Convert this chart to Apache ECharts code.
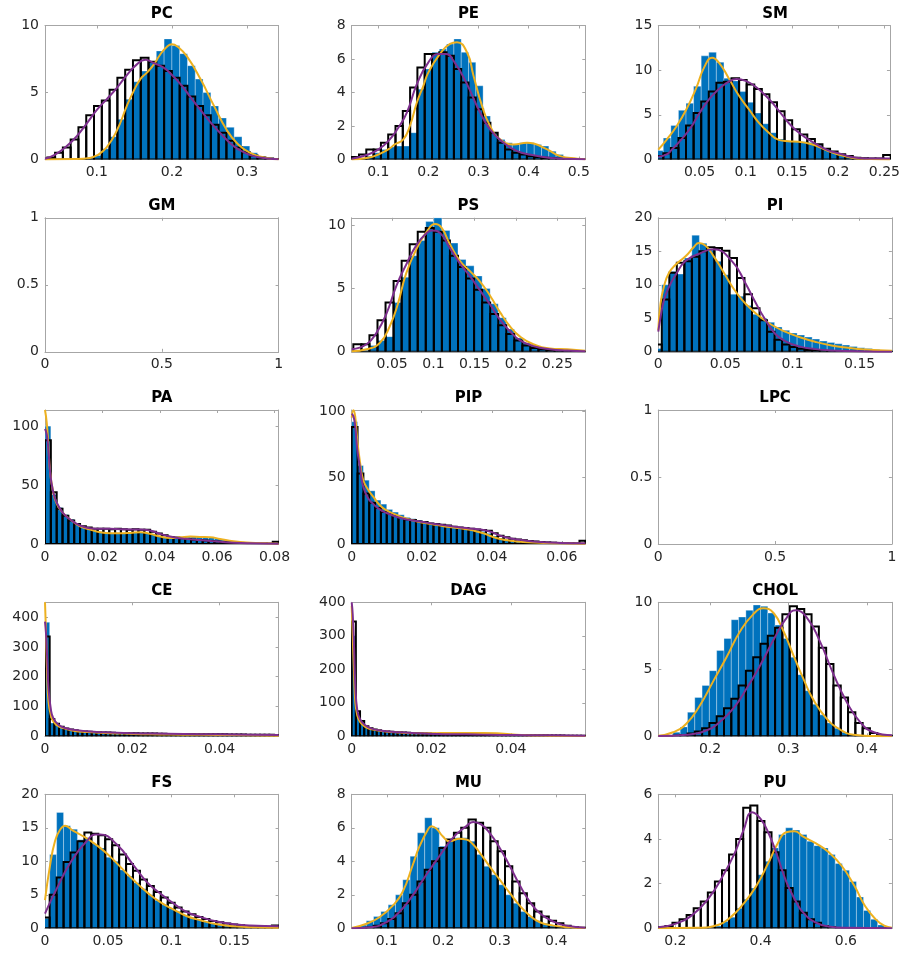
<!DOCTYPE html>
<html><head><meta charset="utf-8">
<script src="https://cdn.jsdelivr.net/npm/echarts@6/dist/echarts.min.js"></script>
<style>html,body{margin:0;padding:0;background:#fff}#chart{width:903px;height:953px}</style>
</head><body><div id="chart"></div>
<script>
// ---------- data ----------
// bins: [first edge, bin width]; lim: axis limits
const PC_xlim=[0.031,0.342], PC_ymax=10, PC_bins=[0.0237,0.010367];
const PC_xticks=[0.1,0.2,0.3], PC_yticks=[0,5,10];
const PC_blue=[0,0,0,0,0.02,0.05,0.1,0.3,0.8,1.7,3.0,4.5,5.8,6.6,7.3,8.1,9.0,8.5,7.9,7.0,6.0,5.0,4.0,3.1,2.4,1.7,1.0,0.5,0.25,0.1,0.05];
const PC_black=[0.05,0.15,0.5,0.9,1.5,2.4,3.3,4.0,4.4,5.2,6.1,6.7,7.4,7.6,7.3,7.0,6.6,6.1,5.5,4.7,4.0,3.3,2.6,2.0,1.4,0.9,0.55,0.3,0.15,0.08,0.03];
const PC_orange=[[0.031,0],[0.07,0.03],[0.09,0.12],[0.1,0.3],[0.113,0.9],[0.127,2.2],[0.14,4.0],[0.149,5.1],[0.158,6.0],[0.167,6.5],[0.176,7.1],[0.184,7.8],[0.193,8.4],[0.2,8.6],[0.208,8.4],[0.22,7.7],[0.238,6.0],[0.256,4.0],[0.273,2.2],[0.287,1.2],[0.304,0.5],[0.327,0.1],[0.342,0.02]];
const PC_purple=[[0.031,0.05],[0.0444,0.37],[0.06,1.0],[0.0733,1.74],[0.0867,2.7],[0.1,3.7],[0.1133,4.5],[0.1267,5.35],[0.14,6.3],[0.1533,7.1],[0.1644,7.45],[0.1756,7.2],[0.1889,6.85],[0.2,6.3],[0.2133,5.5],[0.2267,4.5],[0.2422,3.4],[0.2556,2.5],[0.2689,1.7],[0.2822,1.0],[0.2956,0.55],[0.3089,0.25],[0.3267,0.08],[0.342,0.02]];

const PE_xlim=[0.047,0.513], PE_ymax=8, PE_bins=[0.047,0.014563];
const PE_xticks=[0.1,0.2,0.3,0.4,0.5], PE_yticks=[0,2,4,6,8];
const PE_blue=[0,0.05,0.2,0.4,0.6,0.75,0.8,0.8,1.6,4.2,5.4,6.4,6.6,6.9,7.2,6.4,5.8,4.4,2.6,1.6,1.2,1.0,0.9,1.0,1.0,0.9,0.8,0.5,0.3,0.1,0.05,0];
const PE_black=[0.15,0.3,0.6,0.6,1.0,1.5,2.0,2.9,4.3,5.5,6.3,6.3,6.4,6.2,5.4,4.6,3.7,3.0,2.2,1.6,1.0,0.6,0.4,0.3,0.2,0.15,0.1,0.06,0.04,0.02,0.01,0];
const PE_orange=[[0.047,0],[0.08,0.1],[0.1,0.3],[0.12,0.6],[0.133,0.9],[0.15,1.2],[0.163,2.0],[0.177,3.4],[0.19,4.4],[0.2,5.2],[0.223,6.3],[0.243,6.9],[0.257,7.0],[0.277,6.4],[0.29,5.0],[0.307,3.2],[0.323,2.0],[0.343,1.2],[0.37,0.9],[0.397,1.0],[0.41,0.95],[0.437,0.6],[0.463,0.2],[0.497,0.05],[0.513,0.02]];
const PE_purple=[[0.047,0.05],[0.08,0.3],[0.1,0.6],[0.12,1.1],[0.14,1.9],[0.157,2.8],[0.177,4.5],[0.2,5.8],[0.22,6.3],[0.235,6.3],[0.25,5.9],[0.277,4.5],[0.3,3.0],[0.323,1.8],[0.35,1.0],[0.377,0.5],[0.41,0.25],[0.44,0.1],[0.47,0.04],[0.513,0.01]];

const SM_xlim=[0.0054,0.256], SM_ymax=15, SM_bins=[0.0026,0.0082];
const SM_xticks=[0.05,0.1,0.15,0.2,0.25], SM_yticks=[0,5,10,15];
const SM_blue=[1.0,2.4,3.8,5.5,6.3,8.2,11.6,12.0,10.9,9.1,8.8,7.6,6.4,5.2,4.0,3.0,2.3,2.0,2.0,2.0,1.9,1.6,1.3,0.9,0.6,0.35,0.2,0.1,0.05,0,0];
const SM_black=[0.4,0.7,1.3,2.4,3.8,5.2,6.5,7.6,8.6,8.7,9.1,8.9,8.4,7.9,7.3,6.4,5.4,4.4,3.4,2.8,2.3,1.7,1.2,0.9,0.6,0.4,0.2,0.15,0.1,0.1,0.5];
const SM_orange=[[0.0054,1.1],[0.0143,2.2],[0.025,3.7],[0.0357,5.6],[0.0464,8.0],[0.0554,10.4],[0.0636,11.4],[0.0714,10.8],[0.0821,9.0],[0.0929,7.1],[0.1036,5.6],[0.1143,4.1],[0.125,3.0],[0.1357,2.2],[0.1464,2.05],[0.1571,2.0],[0.1714,1.7],[0.1857,1.1],[0.2,0.55],[0.2143,0.2],[0.2286,0.07],[0.256,0]];
const SM_purple=[[0.0054,0.3],[0.015,0.6],[0.02,1.1],[0.03,2.2],[0.04,3.5],[0.05,5.2],[0.06,6.7],[0.07,7.8],[0.08,8.6],[0.09,9.0],[0.1,8.8],[0.11,8.2],[0.12,7.3],[0.13,6.2],[0.14,4.9],[0.15,3.7],[0.16,2.8],[0.17,2.1],[0.18,1.5],[0.19,1.0],[0.2,0.7],[0.21,0.4],[0.22,0.2],[0.235,0.1],[0.256,0.1]];

const GM_xlim=[0,1], GM_ymax=1, GM_xticks=[0,0.5,1], GM_yticks=[0,0.5,1];

const PS_xlim=[0.001,0.284], PS_ymax=10.6, PS_bins=[0.003,0.00975];
const PS_xticks=[0.05,0.1,0.15,0.2,0.25], PS_yticks=[0,5,10];
const PS_blue=[0.05,0.1,0.5,0.9,1.2,3.9,5.9,7.6,8.8,10.3,10.6,9.6,8.6,7.3,6.8,6.0,5.0,3.8,2.7,1.8,1.1,0.7,0.5,0.3,0.25,0.2,0.15,0.1,0.05];
const PS_black=[0.6,0.6,1.3,2.5,3.9,5.6,7.2,8.5,9.5,9.8,9.5,8.8,7.6,6.7,5.8,4.9,3.9,3.0,2.1,1.4,0.9,0.5,0.3,0.2,0.1,0.08,0.05,0.02,0];
const PS_orange=[[0.001,0.05],[0.019,0.2],[0.035,0.7],[0.047,2.0],[0.057,3.8],[0.067,6.2],[0.08,8.2],[0.092,9.5],[0.102,10.1],[0.11,9.8],[0.12,8.5],[0.132,7.2],[0.144,6.4],[0.156,5.6],[0.169,4.4],[0.181,3.1],[0.193,2.0],[0.205,1.2],[0.221,0.6],[0.241,0.27],[0.262,0.2],[0.284,0.08]];
const PS_purple=[[0.001,0.2],[0.019,0.6],[0.031,1.5],[0.043,3.0],[0.055,5.2],[0.067,6.9],[0.08,8.5],[0.092,9.4],[0.098,9.6],[0.108,9.4],[0.12,8.2],[0.132,7.0],[0.144,6.0],[0.156,4.9],[0.169,3.7],[0.181,2.5],[0.193,1.6],[0.205,0.9],[0.221,0.45],[0.241,0.2],[0.262,0.1],[0.284,0.05]];

const PI_xlim=[0,0.174], PI_ymax=20, PI_bins=[-0.003,0.0056];
const PI_xticks=[0,0.05,0.1,0.15], PI_yticks=[0,5,10,15,20];
const PI_blue=[0.5,10.0,12.0,11.6,14.0,17.4,16.2,15.2,13.5,11.5,8.6,8.3,6.9,5.6,5.0,4.4,3.7,3.2,2.8,2.5,2.2,1.9,1.6,1.4,1.2,1.0,0.8,0.6,0.5,0.35,0.25,0.15];
const PI_black=[1.1,7.8,11.8,13.3,13.5,14.2,15.0,15.6,15.5,15.1,14.0,11.0,8.6,6.5,4.7,3.0,1.8,1.1,0.7,0.45,0.3,0.2,0.1,0.05,0.05,0.02,0,0,0,0,0,0];
const PI_orange=[[0,3.2],[0.0017,7.25],[0.0042,9.75],[0.0079,11.75],[0.0129,13.0],[0.0203,14.25],[0.0265,15.65],[0.0302,16.25],[0.0351,15.85],[0.0413,14.25],[0.0475,12.25],[0.055,9.75],[0.0624,7.75],[0.0698,6.25],[0.0772,5.0],[0.0846,4.0],[0.0945,3.0],[0.1044,2.25],[0.1168,1.5],[0.129,0.95],[0.1415,0.6],[0.154,0.35],[0.174,0.15]];
const PI_purple=[[0,3.0],[0.0017,5.2],[0.0042,7.7],[0.008,9.7],[0.013,11.5],[0.02,13.5],[0.03,14.6],[0.041,15.3],[0.055,13.5],[0.065,10.2],[0.072,7.5],[0.08,4.7],[0.087,2.7],[0.0945,1.6],[0.104,0.85],[0.117,0.4],[0.129,0.2],[0.154,0.05],[0.174,0.01]];

const PA_xlim=[0,0.0814], PA_ymax=113.7, PA_bins=[0,0.002035];
const PA_xticks=[0,0.02,0.04,0.06,0.08], PA_yticks=[0,50,100];
const PA_blue=[100,42,31,25,21,17,14.5,13,11.5,10.5,9.5,9,9,9,9.5,9.5,10,9,8,6.5,5.5,5,5.5,6,6,6,6,5.5,5.5,4.5,4,3,2.2,1.7,1.3,1,0.8,0.6,0.5,0.3];
const PA_black=[88,44,30,24,20,17,15,14,13,13,13,12.5,13,12.5,12,12.5,12,12,10.5,9,7.5,6,5.5,4.8,4.2,3.7,3.3,2.9,2.5,2.2,1.8,1.4,1.1,0.9,0.7,0.6,0.5,0.4,0.3,2];
const PA_orange=[[0,113.7],[0.0006,103],[0.0012,83],[0.0017,63],[0.0027,46],[0.0041,34],[0.0064,26],[0.0087,21],[0.0122,15],[0.0157,12.3],[0.0192,10],[0.0227,9.1],[0.0262,9.1],[0.0297,9.4],[0.0331,10],[0.0366,8.6],[0.0401,6.3],[0.0436,5.1],[0.0471,5.7],[0.0506,6.3],[0.054,6.0],[0.0576,5.7],[0.061,4.3],[0.0657,2.3],[0.0715,1.1],[0.0773,0.6],[0.0814,0.3]];
const PA_purple=[[0,97.7],[0.0006,93],[0.0012,80],[0.0017,63],[0.0027,46],[0.0041,35],[0.0064,26],[0.0087,21],[0.0122,15.7],[0.0157,13.4],[0.0192,12.9],[0.0227,12.9],[0.0262,12.6],[0.0297,12.3],[0.0331,12.3],[0.0366,11.4],[0.0401,8.6],[0.0436,6.3],[0.0471,4.9],[0.0506,4.0],[0.054,3.4],[0.0576,2.6],[0.061,2.0],[0.0657,1.1],[0.0715,0.6],[0.0814,0.3]];

const PIP_xlim=[0,0.0667], PIP_ymax=100.8, PIP_bins=[0,0.0016675];
const PIP_xticks=[0,0.02,0.04,0.06], PIP_yticks=[0,50,100];
const PIP_blue=[92,59,48,40,33,30,26,24,22,20,19,18,17,16,15,14.5,13.5,13,12.5,12,11,10.5,9.5,8,6,4.5,3.2,2.4,1.8,1.5,1.2,1.0,0.8,0.7,0.6,0.5,0.4,0.3,0.3,0.2];
const PIP_black=[88,53,38,31,27,24,22.5,21,19.5,18.5,18,17,16.5,15.5,15,14.5,14,13,12.5,12,11.5,11,10.5,10,8,6.3,5,4,3.4,2.8,2.3,1.8,1.5,1.2,1,0.8,0.7,0.6,0.5,2.5];
const PIP_orange=[[0,95],[0.0005,100.7],[0.001,96],[0.0016,78],[0.0024,61],[0.0033,48],[0.0048,40.5],[0.0062,35.4],[0.0081,29],[0.01,25.3],[0.0124,22.3],[0.0148,19.7],[0.0176,17.7],[0.0205,16],[0.0233,14.7],[0.0262,13.4],[0.029,12.4],[0.0319,11.4],[0.0348,10.1],[0.0376,8.1],[0.04,5.6],[0.0424,3.8],[0.0452,2.5],[0.049,1.5],[0.0538,1.0],[0.0595,0.5],[0.0667,0.25]];
const PIP_purple=[[0,98],[0.0005,96],[0.001,88.6],[0.0016,71],[0.0024,57],[0.0033,43],[0.0048,34],[0.0062,30],[0.0081,25.8],[0.01,23.3],[0.0124,20.8],[0.0148,19],[0.0176,17.7],[0.0205,16.5],[0.0233,15.2],[0.0262,14.2],[0.029,13.2],[0.0319,12.2],[0.0348,11.4],[0.0376,10.6],[0.04,8.9],[0.0424,6.3],[0.0452,4.3],[0.049,2.8],[0.0538,1.5],[0.0595,0.8],[0.0667,0.5]];

const LPC_xlim=[0,1], LPC_ymax=1, LPC_xticks=[0,0.5,1], LPC_yticks=[0,0.5,1];

const CE_xlim=[0,0.0535], CE_ymax=450, CE_bins=[0,0.00107];
const CE_xticks=[0,0.02,0.04], CE_yticks=[0,100,200,300,400];
const CE_blue=[383,45,36,29,24,21,18,16.5,15,14,13,12,11.5,11,10,9.5,9,8.5,8,8,7.5,7,7,7,6.5,6.5,6,6,6,5.5,5.5,5.5,5,5,5,4.5,4.5,4.5,4,4,4,4,3.5,3.5,3.5,3,3,3,2.5,2.5];
const CE_black=[335,58,42,32,26,23,20,18,16.5,15.5,14.5,13.5,13,12.5,12,11.5,11,10.5,10.5,10,9.5,9.5,9,9,8.5,8.5,8,8,8,7.5,7.5,7.5,7,7,7,7,6.5,6.5,6.5,6,6,6,6,5.5,5.5,5.5,5,5,5,4.5];
const CE_orange=[[0,450],[0.0002,363],[0.0005,207],[0.0008,117],[0.0013,73],[0.0019,50],[0.0031,33.5],[0.0046,25.7],[0.0065,19],[0.0096,14.5],[0.0134,11],[0.018,9],[0.0241,6.7],[0.0317,5.6],[0.0394,4.5],[0.047,3.4],[0.0535,2.2]];
const CE_purple=[[0,385],[0.0002,352],[0.0005,263],[0.0008,162],[0.0013,95],[0.0019,61],[0.0031,39],[0.0046,28],[0.0065,22],[0.0096,16.8],[0.0134,13.4],[0.018,11.2],[0.0241,9],[0.0317,7.8],[0.0394,6.7],[0.047,5.6],[0.0535,4.5]];

const DAG_xlim=[0,0.0587], DAG_ymax=400, DAG_bins=[0,0.001048];
const DAG_xticks=[0,0.02,0.04], DAG_yticks=[0,100,200,300,400];
const DAG_blue=[300,55,38,27,22,18.5,16.5,15,14,13,12,11,10.5,10,9.5,9,9,9,9,9,9.5,9.5,9.5,10,10,10,10,10,10,10,10,10,9.5,9.5,9.5,8.5,7.5,6.5,5.5,4.5,4,3.5,3,2.5,2.5,2.5,2,2,2,2,1.5,1.5,1.5,1,1,1];
const DAG_black=[343,75,46,30,24,20,18,16,14.5,13.5,12.5,12,11,10.5,10,9.5,9,8.5,8,7.5,7,7,6.5,6.5,6,6,6,6,5.5,5.5,5.5,5,5,5,4.5,4.5,4.5,4,4,4,3.5,3.5,3.5,3,3,3,3,2.5,2.5,2.5,2.5,2,2,2,2,2];
const DAG_orange=[[0,390],[0.00025,305],[0.0006,184],[0.0009,103.5],[0.0014,63],[0.0021,43],[0.0034,28],[0.005,21],[0.008,15],[0.0122,11],[0.0164,9],[0.0205,9],[0.0247,10],[0.0289,10],[0.0331,10],[0.0365,9],[0.0398,6],[0.044,3],[0.0499,2],[0.0587,1]];
const DAG_purple=[[0,400],[0.00025,365],[0.0006,264],[0.0009,154],[0.0014,78],[0.0021,51],[0.0034,33],[0.005,23],[0.008,16],[0.0122,12],[0.0164,9],[0.0205,7],[0.0247,6],[0.0289,6],[0.0331,5],[0.0373,4],[0.0415,4],[0.0457,3],[0.0499,3],[0.0587,2]];

const CHOL_xlim=[0.134,0.432], CHOL_ymax=10, CHOL_bins=[0.134,0.00931];
const CHOL_xticks=[0.2,0.3,0.4], CHOL_yticks=[0,5,10];
const CHOL_blue=[0,0.05,0.3,0.7,1.8,2.9,3.8,4.9,6.4,7.3,8.7,8.9,9.4,9.8,9.7,9.2,8.3,7.3,5.9,4.6,3.4,2.4,1.6,1.0,0.6,0.3,0.15,0.05,0,0,0,0];
const CHOL_black=[0,0,0.05,0.1,0.2,0.35,0.6,1.0,1.5,2.1,2.8,3.8,4.9,5.9,6.9,7.5,8.1,9.1,9.7,9.5,9.1,8.2,6.6,5.4,3.8,2.9,1.8,1.0,0.6,0.25,0.1,0.05];
const CHOL_orange=[[0.134,0.05],[0.153,0.3],[0.17,0.95],[0.187,2.3],[0.204,4.1],[0.221,5.9],[0.238,7.8],[0.255,9.1],[0.268,9.55],[0.281,9.2],[0.294,7.8],[0.306,6.1],[0.319,4.3],[0.332,2.7],[0.349,1.3],[0.366,0.5],[0.383,0.12],[0.409,0.02],[0.432,0]];
const CHOL_purple=[[0.134,0.02],[0.17,0.12],[0.196,0.45],[0.213,1.1],[0.23,2.1],[0.247,3.6],[0.264,5.3],[0.281,7.2],[0.296,8.7],[0.309,9.4],[0.323,8.9],[0.34,7.1],[0.357,4.7],[0.374,2.6],[0.391,1.1],[0.409,0.3],[0.432,0.08]];

const FS_xlim=[0,0.185], FS_ymax=20, FS_bins=[-0.0018,0.0055];
const FS_xticks=[0,0.05,0.1,0.15], FS_yticks=[0,5,10,15,20];
const FS_blue=[1.5,11.0,17.3,15.3,14.8,13.2,13.5,12.6,12.0,10.6,10.0,8.7,7.8,6.8,5.9,5.0,4.2,3.5,3.0,2.5,2.0,1.6,1.3,1.0,0.7,0.5,0.35,0.25,0.15,0.1,0.05,0.05,0.02,0];
const FS_black=[1.6,5.0,7.6,9.9,11.3,13.0,14.3,14.1,13.9,13.3,12.4,11.0,9.6,8.6,7.3,6.3,5.4,4.6,3.8,3.1,2.5,2.1,1.7,1.4,1.1,0.9,0.7,0.55,0.45,0.35,0.3,0.25,0.2,0.4];
const FS_orange=[[0,4.2],[0.004,9.4],[0.0079,13.0],[0.0119,14.7],[0.0159,15.3],[0.0212,14.7],[0.0278,14.0],[0.0357,13.1],[0.0437,12.0],[0.0516,10.7],[0.0595,9.2],[0.0701,7.2],[0.0807,5.4],[0.0913,3.9],[0.1019,2.8],[0.1124,1.8],[0.123,1.2],[0.1362,0.6],[0.1495,0.3],[0.165,0.15],[0.185,0.1]];
const FS_purple=[[0,2.2],[0.0053,4.4],[0.0106,6.4],[0.0172,8.9],[0.0251,11.2],[0.033,13.0],[0.0397,14.0],[0.0437,14.0],[0.0569,12.5],[0.0701,9.4],[0.0807,6.9],[0.0913,5.2],[0.1019,3.7],[0.1124,2.4],[0.123,1.7],[0.1362,1.0],[0.1495,0.6],[0.1627,0.4],[0.185,0.3]];

const MU_xlim=[0.0379,0.4515], MU_ymax=8, MU_bins=[0.0379,0.012925];
const MU_xticks=[0.1,0.2,0.3,0.4], MU_yticks=[0,2,4,6,8];
const MU_blue=[0.05,0.2,0.45,0.7,1.0,1.4,2.0,2.9,4.3,5.7,6.6,6.0,4.9,5.3,5.4,5.4,5.2,4.4,3.7,3.2,2.6,2.0,1.5,1.0,0.7,0.45,0.3,0.2,0.1,0.05,0.02,0];
const MU_black=[0,0.02,0.05,0.15,0.3,0.55,0.9,1.5,2.0,2.8,3.5,4.0,4.8,5.3,5.7,6.0,6.5,6.3,6.0,5.2,4.6,3.7,2.8,2.1,1.5,1.0,0.7,0.45,0.3,0.15,0.08,0.03];
const MU_orange=[[0.0379,0.02],[0.063,0.26],[0.087,0.66],[0.111,1.37],[0.128,2.17],[0.146,3.78],[0.158,4.9],[0.173,5.9],[0.179,6.1],[0.188,5.95],[0.199,5.5],[0.211,5.2],[0.229,5.35],[0.241,5.3],[0.253,5.0],[0.267,4.4],[0.282,3.7],[0.3,2.9],[0.318,2.1],[0.335,1.37],[0.353,0.76],[0.371,0.36],[0.395,0.16],[0.424,0.06],[0.4515,0.02]];
const MU_purple=[[0.0379,0],[0.075,0.08],[0.099,0.36],[0.122,0.96],[0.146,1.97],[0.17,3.2],[0.193,4.3],[0.217,5.4],[0.241,6.1],[0.253,6.35],[0.267,6.2],[0.282,5.7],[0.3,4.8],[0.318,3.7],[0.335,2.6],[0.353,1.6],[0.371,0.9],[0.395,0.4],[0.418,0.16],[0.4515,0.04]];

const PU_xlim=[0.16,0.708], PU_ymax=6, PU_bins=[0.16,0.0166];
const PU_xticks=[0.2,0.4,0.6], PU_yticks=[0,2,4,6];
const PU_blue=[0,0,0,0,0,0,0,0,0.1,0.3,0.5,0.9,1.3,1.8,2.4,3.0,3.6,4.2,4.5,4.4,4.2,3.9,3.7,3.6,3.3,2.9,2.6,2.1,1.4,0.8,0.4,0.15,0.05];
const PU_black=[0.05,0.1,0.25,0.4,0.6,0.9,1.2,1.6,2.1,2.6,3.3,4.0,5.4,5.5,4.8,4.3,3.4,2.6,1.8,1.2,0.7,0.4,0.25,0.1,0.05,0,0,0,0,0,0,0,0];
const PU_orange=[[0.16,0],[0.25,0.02],[0.3,0.15],[0.33,0.5],[0.36,1.1],[0.39,1.9],[0.42,3.0],[0.44,3.8],[0.46,4.3],[0.48,4.35],[0.5,4.1],[0.53,3.8],[0.56,3.4],[0.59,2.8],[0.62,1.9],[0.645,1.0],[0.67,0.4],[0.69,0.12],[0.708,0.03]];
const PU_purple=[[0.16,0.05],[0.2,0.2],[0.24,0.6],[0.28,1.4],[0.31,2.3],[0.34,3.4],[0.36,4.4],[0.38,5.2],[0.4,4.9],[0.42,4.2],[0.44,3.2],[0.46,2.1],[0.48,1.3],[0.5,0.7],[0.53,0.25],[0.56,0.08],[0.6,0.02],[0.708,0]];

const panels = [
  {title:'PC', xlim:PC_xlim, ymax:PC_ymax, xt:PC_xticks, yt:PC_yticks, bins:PC_bins, blue:PC_blue, black:PC_black, k1:PC_orange, k2:PC_purple},
  {title:'PE', xlim:PE_xlim, ymax:PE_ymax, xt:PE_xticks, yt:PE_yticks, bins:PE_bins, blue:PE_blue, black:PE_black, k1:PE_orange, k2:PE_purple},
  {title:'SM', xlim:SM_xlim, ymax:SM_ymax, xt:SM_xticks, yt:SM_yticks, bins:SM_bins, blue:SM_blue, black:SM_black, k1:SM_orange, k2:SM_purple},
  {title:'GM', xlim:GM_xlim, ymax:GM_ymax, xt:GM_xticks, yt:GM_yticks},
  {title:'PS', xlim:PS_xlim, ymax:PS_ymax, xt:PS_xticks, yt:PS_yticks, bins:PS_bins, blue:PS_blue, black:PS_black, k1:PS_orange, k2:PS_purple},
  {title:'PI', xlim:PI_xlim, ymax:PI_ymax, xt:PI_xticks, yt:PI_yticks, bins:PI_bins, blue:PI_blue, black:PI_black, k1:PI_orange, k2:PI_purple},
  {title:'PA', xlim:PA_xlim, ymax:PA_ymax, xt:PA_xticks, yt:PA_yticks, bins:PA_bins, blue:PA_blue, black:PA_black, k1:PA_orange, k2:PA_purple},
  {title:'PIP', xlim:PIP_xlim, ymax:PIP_ymax, xt:PIP_xticks, yt:PIP_yticks, bins:PIP_bins, blue:PIP_blue, black:PIP_black, k1:PIP_orange, k2:PIP_purple},
  {title:'LPC', xlim:LPC_xlim, ymax:LPC_ymax, xt:LPC_xticks, yt:LPC_yticks},
  {title:'CE', xlim:CE_xlim, ymax:CE_ymax, xt:CE_xticks, yt:CE_yticks, bins:CE_bins, blue:CE_blue, black:CE_black, k1:CE_orange, k2:CE_purple},
  {title:'DAG', xlim:DAG_xlim, ymax:DAG_ymax, xt:DAG_xticks, yt:DAG_yticks, bins:DAG_bins, blue:DAG_blue, black:DAG_black, k1:DAG_orange, k2:DAG_purple},
  {title:'CHOL', xlim:CHOL_xlim, ymax:CHOL_ymax, xt:CHOL_xticks, yt:CHOL_yticks, bins:CHOL_bins, blue:CHOL_blue, black:CHOL_black, k1:CHOL_orange, k2:CHOL_purple},
  {title:'FS', xlim:FS_xlim, ymax:FS_ymax, xt:FS_xticks, yt:FS_yticks, bins:FS_bins, blue:FS_blue, black:FS_black, k1:FS_orange, k2:FS_purple},
  {title:'MU', xlim:MU_xlim, ymax:MU_ymax, xt:MU_xticks, yt:MU_yticks, bins:MU_bins, blue:MU_blue, black:MU_black, k1:MU_orange, k2:MU_purple},
  {title:'PU', xlim:PU_xlim, ymax:PU_ymax, xt:PU_xticks, yt:PU_yticks, bins:PU_bins, blue:PU_blue, black:PU_black, k1:PU_orange, k2:PU_purple}
];

// ---------- layout & style ----------
const COL_LEFT=[45,351.7,658.3], ROW_TOP=[25.5,217.8,410,602.3,794.3], W=233.6, H=134;
const FONT="'DejaVu Sans', sans-serif";
const BOX='#a6a6a6', LBL='#262626';
const fmt = v => String(+(+v).toFixed(6));

function histData(bins, counts){ return counts.map((c,i)=>[bins[0]+i*bins[1], bins[0]+(i+1)*bins[1], c]); }
function barRenderer(style){
  return function(params, api){
    const a = api.coord([api.value(0), 0]);
    const b = api.coord([api.value(1), api.value(2)]);
    return {type:'rect', shape:{x:a[0], y:b[1], width:b[0]-a[0], height:a[1]-b[1]}, style:style};
  };
}

const grid=[], xAxis=[], yAxis=[], series=[], title=[];
panels.forEach((p,i)=>{
  const r=Math.floor(i/3), c=i%3;
  const left=COL_LEFT[c], top=ROW_TOP[r];
  grid.push({left:left, top:top, width:W, height:H, containLabel:false, show:false});
  title.push({text:p.title, left:left+W/2, top:top-19, textAlign:'center', padding:0,
    textStyle:{fontSize:15, fontWeight:'bold', color:'#000', fontFamily:FONT}});
  const base=(ticks, showLabel, pos)=>({
    type:'value', gridIndex:i, position:pos,
    axisLine:{show:true, onZero:false, lineStyle:{color:BOX, width:1}},
    axisTick:{show:true, inside:true, length:3, lineStyle:{color:BOX}, customValues:ticks},
    axisLabel:{show:showLabel, customValues:ticks, formatter:fmt, color:LBL, fontSize:14, fontFamily:FONT, margin:6},
    splitLine:{show:false}
  });
  xAxis.push(Object.assign(base(p.xt,true,'bottom'),{min:p.xlim[0], max:p.xlim[1]}));
  xAxis.push(Object.assign(base(p.xt,false,'top'),{min:p.xlim[0], max:p.xlim[1]}));
  yAxis.push(Object.assign(base(p.yt,true,'left'),{min:0, max:p.ymax}));
  yAxis.push(Object.assign(base(p.yt,false,'right'),{min:0, max:p.ymax}));
  if(!p.blue) return;
  const xi=2*i, yi=2*i;
  series.push({type:'custom', xAxisIndex:xi, yAxisIndex:yi, clip:true, z:1,
    encode:{x:[0,1], y:2}, data:histData(p.bins,p.blue),
    renderItem:barRenderer({fill:'#0072BD', stroke:'rgba(255,255,255,0.45)', lineWidth:0.7})});
  series.push({type:'custom', xAxisIndex:xi, yAxisIndex:yi, clip:true, z:2,
    encode:{x:[0,1], y:2}, data:histData(p.bins,p.black),
    renderItem:barRenderer({fill:'rgba(0,0,0,0)', stroke:'#000', lineWidth:2})});
  series.push({type:'line', xAxisIndex:xi, yAxisIndex:yi, clip:true, z:3, data:p.k1,
    smooth:0.5, showSymbol:false, symbol:'none', lineStyle:{color:'#EDB120', width:2}});
  series.push({type:'line', xAxisIndex:xi, yAxisIndex:yi, clip:true, z:4, data:p.k2,
    smooth:0.5, showSymbol:false, symbol:'none', lineStyle:{color:'#7E2F8E', width:2}});
});

const chart = echarts.init(document.getElementById('chart'), null, {renderer:'canvas'});
chart.setOption({animation:false, backgroundColor:'#fff', title, grid, xAxis, yAxis, series});
</script></body></html>
